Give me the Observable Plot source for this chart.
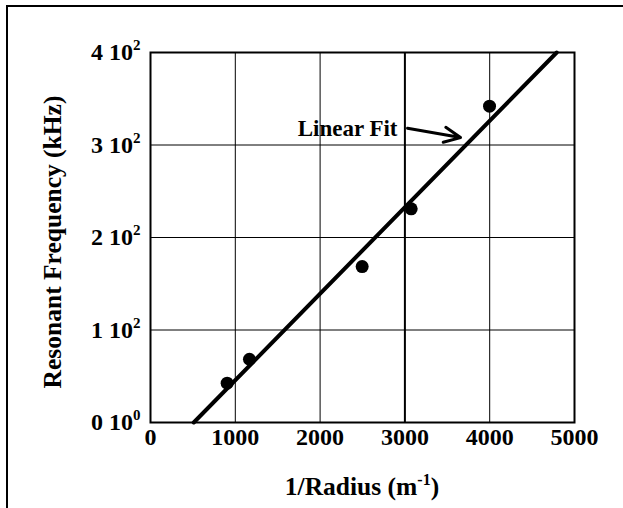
<!DOCTYPE html>
<html>
<head>
<meta charset="utf-8">
<script src="https://cdn.jsdelivr.net/npm/d3@7"></script>
<script src="https://cdn.jsdelivr.net/npm/@observablehq/plot@0.6"></script>
<style>
  html, body { margin: 0; padding: 0; background: white; }
  #wrap { position: relative; width: 623px; height: 508px; overflow: hidden; }
  #outer { position: absolute; left: 6px; top: 5px; width: 700px; height: 600px;
           border-left: 2px solid black; border-top: 2px solid black; pointer-events: none; }
  #chart { position: absolute; left: 0; top: 0; }
</style>
</head>
<body>
<div id="wrap"><div id="chart"></div><div id="outer"></div></div>
<script>
// ---- data ----
const xTicks = [0, 1000, 2000, 3000, 4000, 5000];
const yTicks = [0, 100, 200, 300, 400];
const yTickMantissa = ["0 10", "1 10", "2 10", "3 10", "4 10"];
const yTickExponent = ["0", "2", "2", "2", "2"];
const xGrid = [1000, 2000, 3000, 4000];
const yGrid = [100, 200, 300];

const inverseRadius = [904, 1167, 2496, 3074, 3998];   // 1/m
const resonantFreq = [42.5, 68.4, 168.6, 231, 342];    // kHz

const fitX = [510, 4790];
const fitY = [0, 400];

const labelText = ["Linear Fit"];
const labelX = [2913];
const labelY = [318];
const arrowX1 = [3031], arrowY1 = [318], arrowX2 = [3656], arrowY2 = [308];

const xTitle = "1/Radius (m";
const xTitleSup = "-1";
const yTitle = "Resonant Frequency (kHz)";

// ---- build tables ----
const points = inverseRadius.map((x, i) => ({x, y: resonantFreq[i]}));
const fit = fitX.map((x, i) => ({x, y: fitY[i]}));
const labels = labelText.map((t, i) => ({t, x: labelX[i], y: labelY[i]}));
const arrows = arrowX1.map((x1, i) => ({x1, y1: arrowY1[i], x2: arrowX2[i], y2: arrowY2[i]}));

const font = "'Liberation Serif', 'Times New Roman', serif";

const plot = Plot.plot({
  width: 623,
  height: 508,
  marginLeft: 150,
  marginRight: 49,
  marginTop: 52,
  marginBottom: 86,
  style: {fontFamily: font, fontWeight: "bold", fontSize: "24px", background: "white", color: "black"},
  x: {domain: [0, 5000]},
  y: {domain: [0, 400]},
  marks: [
    Plot.ruleX(xGrid, {stroke: "black", strokeWidth: d => d === 3000 ? 2 : 1, strokeOpacity: 1}),
    Plot.ruleY(yGrid, {stroke: "black", strokeWidth: 1, strokeOpacity: 1}),
    Plot.frame({stroke: "black", strokeWidth: 2}),
    Plot.axisX(xTicks, {tickSize: 0, tickPadding: 5, fontSize: 24, label: null, tickFormat: d => String(d)}),
    Plot.axisY(yTicks, {tickSize: 0, tickPadding: 10, fontSize: 24, label: null,
      tickFormat: d => yTickMantissa[yTicks.indexOf(d)]}),
    Plot.line(fit, {x: "x", y: "y", stroke: "black", strokeWidth: 4}),
    Plot.dot(points, {x: "x", y: "y", r: 6.5, fill: "black", stroke: "none"}),
    Plot.text(labels, {x: "x", y: "y", text: "t", textAnchor: "end", fontSize: 23, fill: "black"}),
    Plot.arrow(arrows, {x1: "x1", y1: "y1", x2: "x2", y2: "y2", stroke: "black", strokeWidth: 3,
      headLength: 15, headAngle: 50})
  ]
});

document.getElementById("chart").appendChild(plot);

const svg = d3.select(plot);
// superscripts on y tick labels
svg.selectAll('g[aria-label="y-axis tick label"] text').each(function(_, i) {
  d3.select(this).append("tspan").attr("dy", "-10").attr("font-size", "15px").text(yTickExponent[i]);
});

const xs = plot.scale("x"), ys = plot.scale("y");
const cx = (xs.apply(0) + xs.apply(5000)) / 2;
const cy = (ys.apply(0) + ys.apply(400)) / 2;
const xt = svg.append("text")
  .attr("x", cx).attr("y", ys.apply(0) + 73)
  .attr("text-anchor", "middle").attr("font-size", "25.5px").attr("font-weight", "bold")
  .attr("font-family", font).attr("fill", "black");
xt.append("tspan").text(xTitle);
xt.append("tspan").attr("dy", "-10").attr("font-size", "16px").text(xTitleSup);
xt.append("tspan").attr("dy", "10").text(")");

svg.append("text")
  .attr("transform", `translate(61,${cy + 5}) rotate(-90)`)
  .attr("text-anchor", "middle").attr("font-size", "25.5px").attr("font-weight", "bold")
  .attr("font-family", font).attr("fill", "black")
  .text(yTitle);
</script>
</body>
</html>
